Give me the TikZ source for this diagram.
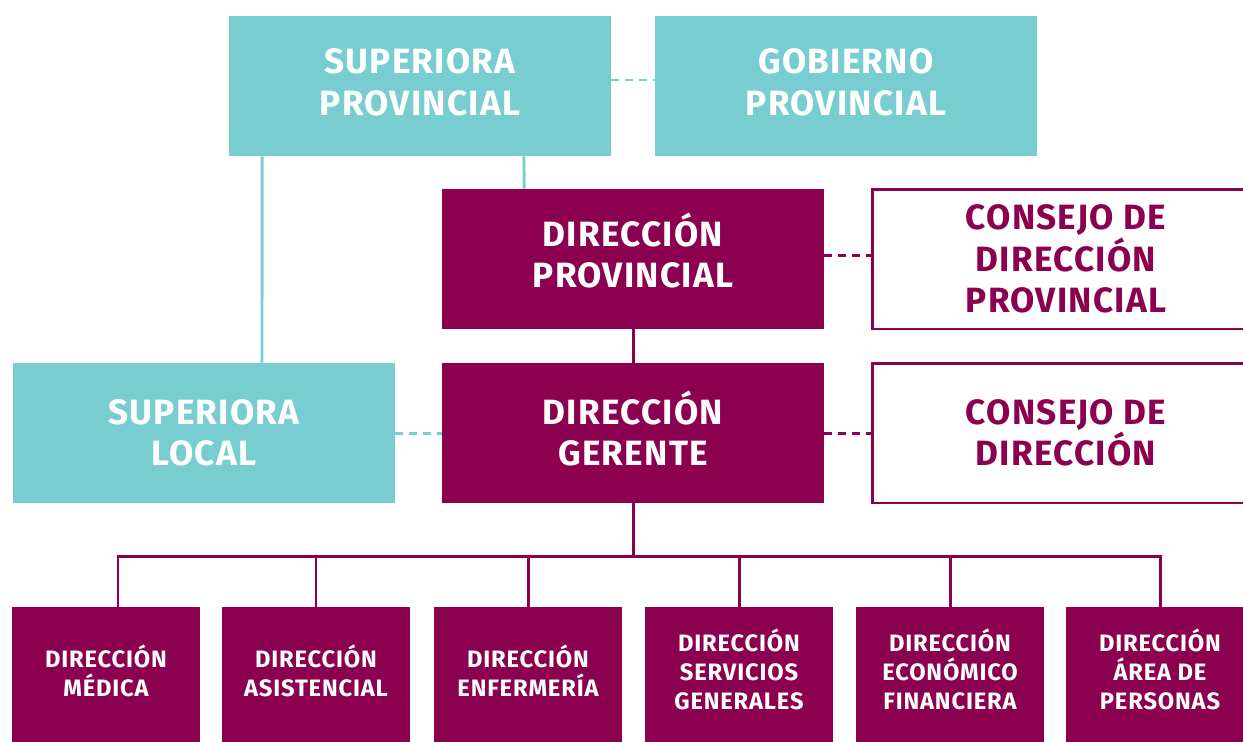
\documentclass[tikz,border=0pt]{standalone}
\usepackage{fontspec}
\setmainfont{Fira Sans}[LetterSpace=3.5]
\usepackage{xcolor}
\usetikzlibrary{positioning}
\definecolor{aqua}{RGB}{120,205,208}
\definecolor{wine}{RGB}{140,0,80}
% extra depth under the last line, lifts the text in its box
\newcommand{\raiseby}[1]{\rule[-#1]{0pt}{0pt}}

\begin{document}
\begin{tikzpicture}[x=0.02cm, y=-0.02cm,
    box/.style={rectangle, inner sep=0pt, align=center, minimum width=7.64cm,
        minimum height=2.8cm, font=\fontsize{20}{23.6}\selectfont\bfseries},
    aquabox/.style={box, fill=aqua, text=white},
    winebox/.style={box, fill=wine, text=white},
    openbox/.style={box, draw=wine, line width=1.7pt, text=wine, minimum width=7.76cm},
    smallbox/.style={winebox, minimum width=3.76cm, minimum height=2.76cm,
        font=\fontsize{13.5}{16.5}\selectfont\bfseries},
    link/.style={line width=1.7pt},
    dashlink/.style={link, dash pattern=on 0.16cm off 0.12cm}]

    \clip (0,0) rectangle (1243,741);
    \fill[white] (0,0) rectangle (1243,741);

    % top level
    \node[aquabox] (supprov) at (420,86)  {SUPERIORA\\PROVINCIAL\raiseby{4.5pt}};
    \node[aquabox] (gobprov) at (846,86)  {GOBIERNO\\PROVINCIAL\raiseby{4.5pt}};

    % provincial and local management
    \node[winebox] (dirprov)  at (633,259)  {DIRECCIÓN\\PROVINCIAL\raiseby{10pt}};
    \node[openbox] (consprov) at (1066,259) {CONSEJO DE\\DIRECCIÓN\\PROVINCIAL};
    \node[aquabox] (suploc)   at (204,433)  {SUPERIORA\\LOCAL};
    \node[winebox] (gerente)  at (633,433)  {DIRECCIÓN\\GERENTE\raiseby{5.5pt}};
    \node[openbox] (consejo)  at (1066,433) {CONSEJO DE\\DIRECCIÓN};

    % departments
    \node[smallbox] (dmed)  at (106,676)  {DIRECCIÓN\\MÉDICA\raiseby{6pt}};
    \node[smallbox] (dasis) at (316,676)  {DIRECCIÓN\\ASISTENCIAL\raiseby{6pt}};
    \node[smallbox] (denf)  at (528,676)  {DIRECCIÓN\\ENFERMERÍA\raiseby{6pt}};
    \node[smallbox] (dserv) at (739,676)  {DIRECCIÓN\\SERVICIOS\\GENERALES\raiseby{7.5pt}};
    \node[smallbox] (decon) at (950,676)  {DIRECCIÓN\\ECONÓMICO\\FINANCIERA\raiseby{7.5pt}};
    \node[smallbox] (dpers) at (1160,676) {DIRECCIÓN\\ÁREA DE\\PERSONAS\raiseby{7.5pt}};

    \coordinate (bus) at (0,556);

    % aqua links
    \draw[link, aqua] ([xshift=-3.16cm]supprov.south) -- ([xshift=1.16cm]suploc.north);
    \draw[link, aqua] ([xshift=2.08cm]supprov.south) -- ([xshift=-2.18cm]dirprov.north);
    \draw[dashlink, aqua] ([yshift=0.12cm]supprov.east) -- ([yshift=0.12cm]gobprov.west);
    \draw[dashlink, aqua] (suploc.east) -- (gerente.west);

    % wine links
    \draw[link, wine] (dirprov.south) -- (gerente.north);
    \draw[dashlink, wine] ([yshift=0.08cm]dirprov.east) -- ([yshift=0.08cm]consprov.west);
    \draw[dashlink, wine] (gerente.east) -- (consejo.west);
    \draw[link, wine] (gerente.south) -- (gerente.south |- bus);
    \draw[link, wine] ([xshift=0.24cm]dmed.north) -- ([xshift=0.24cm]dmed.north |- bus)
        -- (dpers.north |- bus) -- (dpers.north);
    \foreach \d in {dasis, denf, dserv, decon}
        \draw[link, wine] (\d.north |- bus) -- (\d.north);

\end{tikzpicture}
\end{document}
